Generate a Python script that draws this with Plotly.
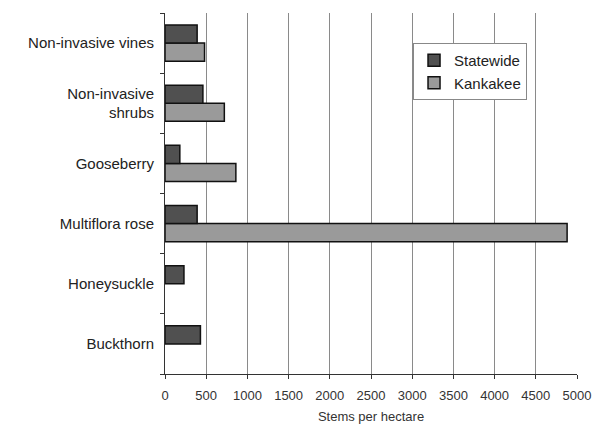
import plotly.graph_objects as go

categories = ["Buckthorn", "Honeysuckle", "Multiflora rose", "Gooseberry",
              "Non-invasive<br>shrubs", "Non-invasive vines"]
statewide = [430, 230, 390, 180, 460, 390]
kankakee = [None, None, 4880, 860, 720, 480]
x_ticks = list(range(0, 5001, 500))

fig = go.Figure()
fig.add_trace(go.Bar(y=categories, x=kankakee, orientation="h", name="Kankakee",
                     marker=dict(color="#9a9a9a", line=dict(color="#111111", width=1.5))))
fig.add_trace(go.Bar(y=categories, x=statewide, orientation="h", name="Statewide",
                     marker=dict(color="#505050", line=dict(color="#111111", width=1.5))))

fig.update_layout(
    width=593, height=425,
    margin=dict(l=165, r=16, t=13, b=51),
    paper_bgcolor="white", plot_bgcolor="white",
    barmode="group", bargap=0.4, bargroupgap=0,
    font=dict(family="Liberation Sans, Arial, sans-serif", color="#222222"),
    showlegend=True,
    legend=dict(x=0.602, y=0.917, xanchor="left", yanchor="top",
                traceorder="reversed", bgcolor="white",
                bordercolor="#888888", borderwidth=1,
                font=dict(size=15, color="#222222"),
                itemwidth=30, tracegroupgap=0),
)
fig.update_xaxes(range=[0, 5000], tickvals=x_ticks, ticktext=[str(v) for v in x_ticks],
                 automargin=False,
                 showgrid=True, gridcolor="#8a8a8a", gridwidth=1,
                 showline=True, linecolor="#333333", linewidth=1,
                 ticks="outside", ticklen=4, tickcolor="#333333",
                 tickfont=dict(size=13, color="#333333"), ticklabelstandoff=5,
                 title=dict(text="Stems per hectare", font=dict(size=13, color="#333333"), standoff=10),
                 zeroline=False)
fig.update_yaxes(showgrid=False, showline=True, linecolor="#333333", linewidth=1,
                 automargin=False,
                 ticks="outside", ticklen=4, tickcolor="#333333", tickson="boundaries",
                 tickfont=dict(size=15, color="#222222"), ticklabelstandoff=7,
                 categoryorder="array", categoryarray=categories)

fig.write_html("out.html", config={"displayModeBar": False},
               post_script="document.body.style.margin='0';document.body.style.overflow='hidden';")
